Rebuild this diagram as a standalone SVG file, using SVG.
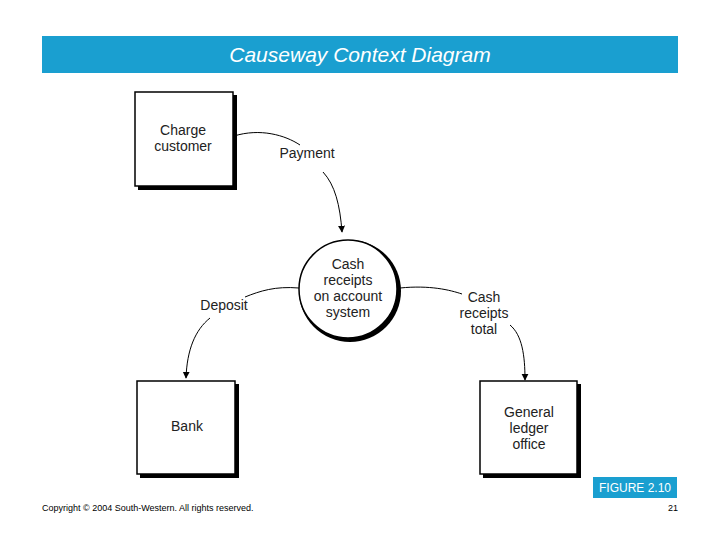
<svg xmlns="http://www.w3.org/2000/svg" width="720" height="540" viewBox="0 0 720 540">
<defs>
<marker id="arr" viewBox="0 0 10 10" refX="9" refY="5" markerWidth="7" markerHeight="9" orient="auto" markerUnits="userSpaceOnUse"><path d="M0,0 L10,5 L0,10 z" fill="#000"/></marker>
</defs>
<style>
.t{font-family:"Liberation Sans",Arial,sans-serif;font-size:14px;fill:#222;text-anchor:middle}
.box{fill:#fff;stroke:#000;stroke-width:1.5}
.sh{fill:#000}
.c{fill:none;stroke:#000;stroke-width:1}
</style>
<rect width="720" height="540" fill="#fff"/>
<rect x="42" y="36" width="636" height="37" fill="#1a9fd0"/>
<text x="360" y="62" font-family="Liberation Sans,Arial,sans-serif" font-size="21" font-style="italic" fill="#fff" text-anchor="middle">Causeway Context Diagram</text>
<g id="charge"><rect class="sh" x="138" y="95" width="99" height="95"/><rect class="box" x="135" y="92" width="98" height="94"/><text class="t" x="183" y="135">Charge</text><text class="t" x="183" y="151">customer</text></g>
<g id="system"><circle cx="350" cy="291" r="51" fill="#000"/><circle cx="348" cy="289" r="49" fill="#fff" stroke="#000" stroke-width="1.5"/><text class="t" x="348" y="269">Cash</text><text class="t" x="348" y="285">receipts</text><text class="t" x="348" y="301">on account</text><text class="t" x="348" y="317">system</text></g>
<g id="bank"><rect class="sh" x="140" y="384" width="99" height="94"/><rect class="box" x="137" y="381" width="98" height="93"/><text class="t" x="187" y="431">Bank</text></g>
<g id="gl"><rect class="sh" x="483" y="384" width="98" height="94"/><rect class="box" x="480" y="381" width="97" height="93"/><text class="t" x="529" y="417">General</text><text class="t" x="529" y="433">ledger</text><text class="t" x="529" y="449">office</text></g>
<g id="connectors">
<path class="c" d="M234,136 C260,128 285,135 300,145"/>
<path class="c" d="M323,172 C335,185 340,205 342,232" marker-end="url(#arr)"/>
<path class="c" d="M299,288 C275,286 260,291 245,297"/>
<path class="c" d="M210,318 C195,330 187,350 186,378" marker-end="url(#arr)"/>
<path class="c" d="M400,288 C430,285 450,290 462,294"/>
<path class="c" d="M510,325 C522,335 525,355 525,380" marker-end="url(#arr)"/>
</g>
<text class="t" x="307" y="158">Payment</text>
<text class="t" x="224" y="310">Deposit</text>
<text class="t" x="484" y="302">Cash</text><text class="t" x="484" y="318">receipts</text><text class="t" x="484" y="334">total</text>
<rect x="593" y="477" width="84" height="21" fill="#1a9fd0"/>
<text x="635" y="492" font-family="Liberation Sans,Arial,sans-serif" font-size="12" fill="#fff" text-anchor="middle">FIGURE 2.10</text>
<text x="42" y="511" font-family="Liberation Sans,Arial,sans-serif" font-size="9" fill="#000">Copyright © 2004 South-Western. All rights reserved.</text>
<text x="678" y="511" font-family="Liberation Sans,Arial,sans-serif" font-size="9" fill="#000" text-anchor="end">21</text>
</svg>
